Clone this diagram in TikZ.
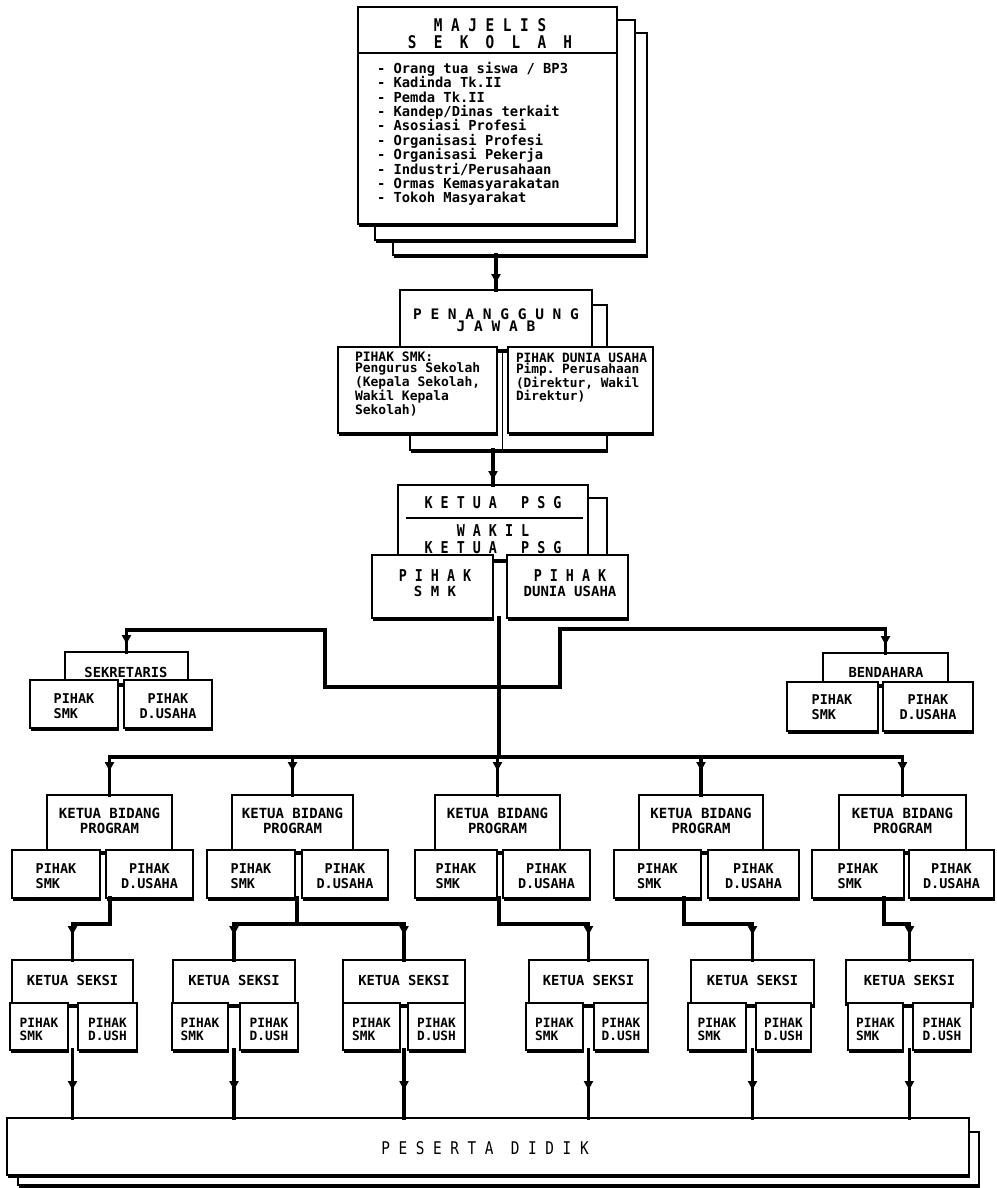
\documentclass[tikz,border=0pt]{standalone}
\usepackage{fontspec}
\newfontfamily\dm{DejaVu Sans Mono}
\newfontfamily\dmn[FakeStretch=0.82]{DejaVu Sans Mono}
\usetikzlibrary{arrows.meta,decorations.markings,shadows}
\tikzset{
  box/.style={draw,line width=2.6pt,fill=white,inner sep=0pt,outer sep=0pt,
    drop shadow={shadow xshift=1pt,shadow yshift=-3pt,fill=black,opacity=1}},
  conn/.style={line width=3.5pt,line cap=rect},
  marr/.style={postaction={decorate},decoration={markings,
    mark=at position #1 with {\arrow{Triangle[length=9pt,width=9pt]}}}},
  tx/.style 2 args={inner sep=0pt,outer sep=0pt,align=center,
    font=\dm\bfseries\frenchspacing\fontsize{#1}{#2}\selectfont},
  tn/.style 2 args={inner sep=0pt,outer sep=0pt,align=center,
    font=\dmn\bfseries\frenchspacing\fontsize{#1}{#2}\selectfont},
}
\newcommand\mybox[6][]{%
  \pgfmathsetmacro\bw{#5-#3}\pgfmathsetmacro\bh{#6-#4}%
  \node[box,minimum width=\bw pt,minimum height=\bh pt,#1] (#2) at ({(#3+#5)/2},{(#4+#6)/2}) {};}
\begin{document}
\begin{tikzpicture}[x=1pt,y=-1pt]
\useasboundingbox (0,0) rectangle (996,1188);

% ---------- MAJELIS SEKOLAH ----------
\mybox{maj3}{393}{33}{647}{255}
\mybox{maj2}{375}{20}{635}{240}
\mybox{maj1}{358}{7}{617}{224}
\draw[line width=2pt] (maj1.west |- 0,53) -- (maj1.east |- 0,53);
\node[tn={17.5}{16.8}] (tmaj) at (490,34) {M~A~J~E~L~I~S\\S~~E~~K~~O~~L~~A~~H};
\node[tx={13.8}{14.4},align=left,anchor=west] (tmajl) at (377,134)
 {- Orang tua siswa / BP3\\- Kadinda Tk.II\\- Pemda Tk.II\\- Kandep/Dinas terkait\\- Asosiasi Profesi\\- Organisasi Profesi\\- Organisasi Pekerja\\- Industri/Perusahaan\\- Ormas Kemasyarakatan\\- Tokoh Masyarakat};

% ---------- PENANGGUNG JAWAB ----------
\mybox{pjs}{410}{305}{607}{450}
\mybox{pj}{400}{290}{592}{350}
\mybox{pja}{338}{347}{497}{433}
\mybox{pjb}{508}{347}{653}{433}
\node[tx={14.5}{12.5}] (tpj) at (496,320) {P~E~N~A~N~G~G~U~N~G\\J~A~W~A~B};
\node[tx={13}{10.8},align=left,anchor=west] (tpja) at (355,384)
 {PIHAK SMK:\\Pengurus Sekolah\\(Kepala Sekolah,\\Wakil Kepala\\Sekolah)};
\node[tx={12.8}{10.8},align=left,anchor=west] (tpjb) at (516,378)
 {PIHAK DUNIA USAHA\\Pimp. Perusahaan\\(Direktur, Wakil\\Direktur)};

% ---------- KETUA PSG ----------
\mybox{psgs}{410}{498}{607}{560}
\mybox{psg}{398}{485}{588}{560}
\draw[line width=2pt] (406,518) -- (583,518);
\mybox{psga}{372}{555}{493}{618}
\mybox{psgb}{507}{555}{628}{618}
\node[tn={16.3}{17}] (tpsg) at (493,503) {K~E~T~U~A~~~P~S~G};
\node[tn={16.3}{17}] (tpsgw) at (493,539) {W~A~K~I~L\\K~E~T~U~A~~~P~S~G};
\node[tx={14}{14.5}] (tpsga) at (435,583) {{\dmn\fontsize{16.3}{14.5}\selectfont P~I~H~A~K}\\S~M~K};
\node[tx={14}{14.5}] (tpsgb) at (570,583) {{\dmn\fontsize{16.3}{14.5}\selectfont P~I~H~A~K}\\DUNIA USAHA};

% ---------- SEKRETARIS / BENDAHARA ----------
\mybox{sek}{65}{652}{188}{684}
\mybox{seka}{30}{680}{118}{728}
\mybox{sekb}{124}{680}{212}{728}
\node[tx={13.8}{14}] (tsek) at (126,672) {SEKRETARIS};
\node[tx={13.5}{15},align=left] (tseka) at (74,706) {PIHAK\\SMK};
\node[tx={13.5}{15}] (tsekb) at (168,706) {PIHAK\\D.USAHA};

\mybox{ben}{823}{653}{948}{685}
\mybox{bena}{787}{682}{878}{731}
\mybox{benb}{883}{682}{973}{731}
\node[tx={13.8}{14}] (tben) at (886,672) {BENDAHARA};
\node[tx={13.5}{15},align=left] (tbena) at (832,707) {PIHAK\\SMK};
\node[tx={13.5}{15}] (tbenb) at (928,707) {PIHAK\\D.USAHA};

% ---------- KETUA BIDANG PROGRAM ----------
\foreach \i/\ha/\hb/\pa/\pb/\qa/\qb in {1/47/172/12/100/106/193,2/232/353/207/295/302/388,3/435/560/415/497/503/590,4/639/763/614/701/708/799,5/839/966/812/904/909/994}{
  \mybox{b\i}{\ha}{795}{\hb}{852}
  \mybox{ba\i}{\pa}{850}{\pb}{898}
  \mybox{bb\i}{\qa}{850}{\qb}{898}
  \node[tx={14}{15}] (tb\i) at (b\i.center |- 0,821) {KETUA BIDANG\\PROGRAM};
  \node[tx={13.5}{15},align=left] (tba\i) at (ba\i.center |- 0,876) {PIHAK\\SMK};
  \node[tx={13.5}{15}] (tbb\i) at (bb\i.center |- 0,876) {PIHAK\\D.USAHA};
}

% ---------- KETUA SEKSI ----------
\foreach \i/\ha/\hb/\pa/\pb/\qa/\qb in {1/12/133/10/68/78/137,2/173/295/172/228/240/298,3/343/465/343/400/408/465,4/529/648/526/583/594/648,5/691/814/688/746/756/811,6/846/973/848/903/913/971}{
  \mybox{s\i}{\ha}{960}{\hb}{1005}
  \mybox{sa\i}{\pa}{1003}{\pb}{1050}
  \mybox{sb\i}{\qa}{1003}{\qb}{1050}
  \node[tx={13.8}{14}] (ts\i) at (s\i.center |- 0,980) {KETUA SEKSI};
  \node[tx={12.8}{13},align=left] (tsa\i) at (sa\i.center |- 0,1029) {PIHAK\\SMK};
  \node[tx={12.8}{13}] (tsb\i) at (sb\i.center |- 0,1029) {PIHAK\\D.USH};
}

% ---------- PESERTA DIDIK ----------
\mybox{pess}{18}{1132}{979}{1185}
\mybox{pes}{7}{1118}{969}{1175}
\node[inner sep=0pt,font=\dmn\frenchspacing\fontsize{17.5}{18}\selectfont] (tpes) at (485,1148) {P~E~S~E~R~T~A~~D~I~D~I~K};

% ---------- CONNECTORS ----------
\coordinate (sp0) at (499,618);
\coordinate (j1) at (499,687);
\coordinate (bus) at (499,757);
\coordinate (sk1) at (325,687);
\coordinate (sk2) at (325,630);
\coordinate (bn1) at (560,687);
\coordinate (bn2) at (560,629);
\coordinate (k1) at (110,924);
\coordinate (k2) at (297,924);
\coordinate (k3) at (499,924);
\coordinate (k4) at (684,924);
\coordinate (k5) at (884,924);
\coordinate (g1) at (502,350);
\coordinate (g2) at (502,450);

\draw[conn,marr=-7pt] (pj.north |- maj3.south) -- (pj.north);
\draw[conn,marr=-5pt] (psg.north |- pjs.south) -- (psg.north);
\draw[line width=1pt] (g1) -- (g2);
\draw[conn] (sp0) -- (bus);
\draw[conn,marr=-8pt] (j1) -- (sk1) -- (sk2) -- (sk2 -| sek.north) -- (sek.north);
\draw[conn,marr=-8pt] (j1) -- (bn1) -- (bn2) -- (bn2 -| ben.north) -- (ben.north);
\draw[conn] (bus -| b1.north) -- (bus -| b5.north);
\foreach \i in {1,...,5} \draw[conn,marr=-24pt] (bus -| b\i.north) -- (b\i.north);
\draw[conn,marr=-25pt] (k1 |- ba1.south) -- (k1) -- (k1 -| s1.north) -- (s1.north);
\draw[conn] (k2 |- ba2.south) -- (k2);
\draw[conn] (k2 -| s2.north) -- (k2 -| s3.north);
\draw[conn,marr=-25pt] (k2 -| s2.north) -- (s2.north);
\draw[conn,marr=-25pt] (k2 -| s3.north) -- (s3.north);
\draw[conn,marr=-25pt] (k3 |- ba3.south) -- (k3) -- (k3 -| s4.north) -- (s4.north);
\draw[conn,marr=-25pt] (k4 |- ba4.south) -- (k4) -- (k4 -| s5.north) -- (s5.north);
\draw[conn,marr=-25pt] (k5 |- ba5.south) -- (k5) -- (k5 -| s6.north) -- (s6.north);
\foreach \i in {1,...,6} \draw[conn,marr=-28pt] (s\i.center |- sa\i.south) -- (s\i.center |- pes.north);
\end{tikzpicture}
\end{document}
